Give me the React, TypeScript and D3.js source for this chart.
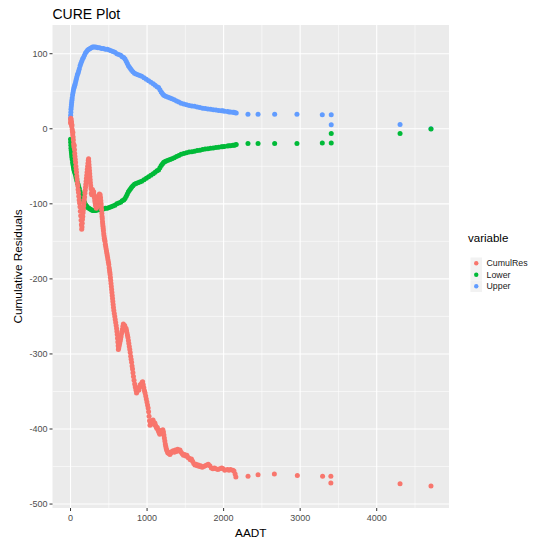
import React from "react";
import * as d3 from "d3";

const WIDTH = 535;
const HEIGHT = 541;
const PANEL = { left: 52.5, right: 449, top: 25, bottom: 508 };
const FONT = "'Liberation Sans', Arial, Helvetica, sans-serif";

const chartTitle = "CURE Plot";
const xTitle = "AADT";
const yTitle = "Cumulative Residuals";
const legendTitle = "variable";

const xBreaks = [0, 1000, 2000, 3000, 4000];
const yBreaks = [-500, -400, -300, -200, -100, 0, 100];

const seriesNames = ["CumulRes", "Lower", "Upper"];
const seriesColors = ["#F8766D", "#00BA38", "#619CFF"];

// [AADT, cumulative residual]
const cumulRes: [number, number][] = [
  [0, 8], [2, 12], [4, 14], [6, 9], [8, 12], [10, 6], [13, 9], [16, 3], [19, 5], [22, -1],
  [25, -4], [28, -8], [31, -5], [34, -11], [37, -15], [40, -20], [44, -24], [48, -22], [52, -28], [55, -33],
  [58, -37], [62, -41], [66, -45], [70, -50], [74, -54], [78, -58], [82, -63], [86, -67], [90, -72], [95, -76],
  [99, -81], [104, -85], [108, -90], [113, -95], [118, -99], [123, -104], [128, -110], [133, -116], [138, -122], [142, -128],
  [146, -134],
  [150, -131], [153, -126], [156, -121], [160, -117], [164, -112], [168, -108], [172, -103], [176, -99], [180, -95], [184, -91],
  [188, -86], [192, -82], [196, -78], [200, -74], [204, -70], [208, -66], [212, -62], [216, -58], [220, -54], [224, -50],
  [228, -46], [232, -42], [236, -40],
  [239, -44], [242, -48], [245, -52], [248, -56], [251, -60], [254, -64], [257, -68], [260, -72], [264, -76], [268, -80],
  [272, -86], [277, -88], [282, -84], [287, -81], [292, -83], [297, -86], [302, -84], [307, -88], [312, -92], [317, -96],
  [322, -99], [327, -102], [332, -104], [337, -106], [342, -104],
  [347, -100], [352, -96], [357, -93], [362, -90], [367, -92], [372, -89], [377, -87], [382, -90], [387, -88], [392, -92],
  [396, -96], [400, -100], [403, -104], [406, -108], [409, -113], [412, -117], [415, -120], [418, -124], [421, -127], [424, -130],
  [427, -133], [430, -136], [434, -140], [438, -143], [442, -146], [446, -148], [450, -150], [455, -154], [460, -157], [465, -160],
  [470, -163], [475, -166], [480, -169], [485, -172], [490, -175], [495, -178],
  [500, -181], [505, -185], [509, -188], [513, -191], [517, -194], [521, -198], [525, -202], [529, -206], [533, -210], [537, -214],
  [541, -218], [545, -222], [549, -226], [553, -230], [557, -234], [561, -238], [566, -242], [572, -246], [578, -250], [584, -254],
  [590, -258], [596, -262], [602, -266], [606, -270], [610, -274], [614, -279], [618, -284], [622, -289], [625, -294],
  [630, -292], [636, -289], [642, -286], [648, -283], [654, -280], [660, -277], [666, -273], [672, -270], [678, -267], [684, -263],
  [690, -260],
  [696, -263], [702, -266], [708, -262], [714, -265], [720, -268], [726, -266], [732, -269], [738, -272], [744, -275], [750, -278],
  [756, -282], [762, -286], [768, -290], [774, -294], [780, -298], [786, -303], [792, -307], [798, -311], [804, -316], [810, -320],
  [816, -325], [822, -330], [830, -335], [838, -340], [846, -344], [854, -348], [862, -352],
  [870, -350], [878, -347], [886, -345], [894, -348], [902, -344], [910, -341], [918, -343], [926, -340], [934, -338], [942, -337],
  [950, -341], [958, -345], [966, -349], [974, -352], [982, -356], [990, -360], [998, -364], [1006, -368], [1014, -372], [1020, -377],
  [1026, -383], [1032, -389], [1038, -395],
  [1044, -393], [1050, -391], [1057, -389], [1064, -392], [1071, -390], [1078, -388], [1086, -391], [1094, -394], [1102, -392], [1110, -395],
  [1118, -397], [1126, -399], [1134, -398], [1142, -401], [1150, -403], [1158, -405], [1166, -407], [1174, -404], [1182, -402], [1190, -405],
  [1198, -403], [1206, -401], [1214, -404], [1220, -408], [1226, -412], [1232, -416], [1238, -420], [1244, -423], [1250, -426], [1256, -428],
  [1264, -430], [1272, -432], [1280, -431], [1290, -433], [1299, -434],
  [1310, -432], [1325, -430], [1340, -429], [1355, -431], [1370, -428], [1385, -430], [1400, -427], [1415, -429], [1430, -428], [1445, -431],
  [1460, -433], [1475, -435], [1490, -434], [1505, -436], [1520, -435], [1535, -438], [1550, -439], [1565, -441], [1580, -440], [1595, -443],
  [1610, -446], [1625, -448], [1640, -447], [1655, -449], [1670, -448], [1685, -450], [1700, -449], [1720, -451], [1740, -450], [1760, -449],
  [1780, -448], [1800, -447], [1820, -449], [1840, -452], [1860, -453], [1880, -452], [1900, -453], [1925, -454], [1950, -453], [1975, -452],
  [1995, -453], [2015, -455], [2050, -454], [2070, -455], [2090, -454], [2120, -455], [2135, -456], [2150, -460], [2160, -464],
  [2319, -463], [2450, -461], [2663, -460], [2963, -462], [3293, -463], [3401, -463], [3401, -472], [4305, -473], [4709, -476],
];

// [AADT, upper bound]
const upper: [number, number][] = [
  [0, 14], [2, 18], [4, 22], [6, 26], [9, 29], [12, 32], [15, 35], [18, 38], [22, 41], [27, 45],
  [32, 48], [37, 51], [43, 54], [49, 56], [55, 58], [61, 60], [68, 63], [75, 66], [82, 69], [90, 72],
  [98, 74], [106, 77], [115, 80], [125, 84], [135, 87], [146, 90], [157, 93], [169, 95], [182, 98], [195, 101],
  [210, 103], [225, 105], [240, 106], [256, 107], [272, 108], [288, 109], [305, 109], [322, 109], [340, 108.5], [358, 108],
  [380, 108], [405, 107], [430, 107], [455, 106], [480, 106], [505, 105], [530, 104], [555, 103], [580, 102], [605, 100],
  [630, 99], [655, 98], [675, 96], [695, 95], [712, 93], [728, 90], [742, 87], [756, 84], [770, 82], [784, 80],
  [798, 78], [815, 76], [835, 74], [855, 73], [880, 72], [905, 71], [930, 70], [960, 68], [990, 66], [1020, 64],
  [1050, 62], [1080, 60], [1105, 58], [1130, 56], [1150, 55], [1168, 52], [1185, 49], [1200, 47], [1215, 45], [1230, 44],
  [1250, 43], [1275, 42], [1300, 41], [1325, 40], [1355, 38.5], [1385, 37], [1415, 35.5], [1445, 34], [1480, 33], [1515, 32],
  [1550, 31], [1585, 30.5], [1620, 30], [1655, 29], [1690, 28.5], [1725, 27.5], [1760, 27], [1795, 26.5], [1830, 26], [1865, 25.5],
  [1900, 25], [1935, 24.5], [1970, 24], [1990, 24], [2010, 23.5], [2050, 23], [2070, 22.5], [2090, 22.5], [2120, 22], [2135, 22],
  [2150, 21.5], [2165, 21],
  [2318, 19.5], [2450, 19.5], [2667, 19.5], [2958, 19.5], [3289, 18.6], [3406, 18.6], [3406, 5.3], [4305, 5.7], [4709, 0],
];

// [AADT, lower bound]
const lower: [number, number][] = [
  [0, -14], [2, -18], [4, -22], [6, -26], [9, -29], [12, -32], [15, -35], [18, -38], [22, -41], [27, -45],
  [32, -48], [37, -51], [43, -54], [49, -56], [55, -58], [61, -60], [68, -63], [75, -66], [82, -69], [90, -72],
  [98, -74], [106, -77], [115, -80], [125, -84], [135, -87], [146, -90], [157, -93], [169, -95], [182, -98], [195, -101],
  [210, -103], [225, -105], [240, -106], [256, -107], [272, -108], [288, -109], [305, -109], [322, -109], [340, -108.5], [358, -108],
  [380, -108], [405, -107], [430, -107], [455, -106], [480, -106], [505, -105], [530, -104], [555, -103], [580, -102], [605, -100],
  [630, -99], [655, -98], [675, -96], [695, -95], [712, -93], [728, -90], [742, -87], [756, -84], [770, -82], [784, -80],
  [798, -78], [815, -76], [835, -74], [855, -73], [880, -72], [905, -71], [930, -70], [960, -68], [990, -66], [1020, -64],
  [1050, -62], [1080, -60], [1105, -58], [1130, -56], [1150, -55], [1168, -52], [1185, -49], [1200, -47], [1215, -45], [1230, -44],
  [1250, -43], [1275, -42], [1300, -41], [1325, -40], [1355, -38.5], [1385, -37], [1415, -35.5], [1445, -34], [1480, -33], [1515, -32],
  [1550, -31], [1585, -30.5], [1620, -30], [1655, -29], [1690, -28.5], [1725, -27.5], [1760, -27], [1795, -26.5], [1830, -26], [1865, -25.5],
  [1900, -25], [1935, -24.5], [1970, -24], [1990, -24], [2010, -23.5], [2050, -23], [2070, -22.5], [2090, -22.5], [2120, -22], [2135, -22],
  [2150, -21.5], [2165, -21],
  [2318, -19.5], [2450, -19.5], [2667, -19.5], [2958, -19.5], [3289, -19], [3406, -19], [3406, -6.2], [4305, -6.2], [4709, -0.4],
];

// Drawing order: bounds first, residuals on top of them
const layers = [
  { name: "Upper", data: upper },
  { name: "Lower", data: lower },
  { name: "CumulRes", data: cumulRes },
];

function expand(ext: [number, number], mult = 0.05): [number, number] {
  const pad = (ext[1] - ext[0]) * mult;
  return [ext[0] - pad, ext[1] + pad];
}

function minorBreaks(major: number[], domain: [number, number]) {
  const step = major[1] - major[0];
  const out: number[] = [];
  for (let v = major[0] - step / 2; v <= domain[1]; v += step) {
    if (v >= domain[0] && v <= domain[1]) out.push(v);
  }
  return out;
}

export default function App() {
  const all = [...cumulRes, ...upper, ...lower];
  const xDomain = expand(d3.extent(all, (d) => d[0]) as [number, number]);
  const yDomain = expand(d3.extent(all, (d) => d[1]) as [number, number]);

  const x = d3.scaleLinear().domain(xDomain).range([PANEL.left, PANEL.right]);
  const y = d3.scaleLinear().domain(yDomain).range([PANEL.bottom, PANEL.top]);
  const color = d3.scaleOrdinal<string, string>().domain(seriesNames).range(seriesColors);

  const xMinor = minorBreaks(xBreaks, xDomain);
  const yMinor = minorBreaks(yBreaks, yDomain);

  const legendX = 468;
  const keyTop = 257.5;
  const keyH = 11.5;

  return (
    <svg
      width={WIDTH}
      height={HEIGHT}
      style={{ position: "absolute", left: 0, top: 0, background: "#FFFFFF" }}
      fontFamily={FONT}
    >
      <rect x={0} y={0} width={WIDTH} height={HEIGHT} fill="#FFFFFF" />
      <text x={PANEL.left} y={19} fontSize={14} fill="#000">
        {chartTitle}
      </text>

      {/* panel */}
      <rect
        x={PANEL.left}
        y={PANEL.top}
        width={PANEL.right - PANEL.left}
        height={PANEL.bottom - PANEL.top}
        fill="#EBEBEB"
      />
      {xMinor.map((v) => (
        <line key={`xm${v}`} x1={x(v)} x2={x(v)} y1={PANEL.top} y2={PANEL.bottom} stroke="#FFFFFF" strokeWidth={0.55} />
      ))}
      {yMinor.map((v) => (
        <line key={`ym${v}`} x1={PANEL.left} x2={PANEL.right} y1={y(v)} y2={y(v)} stroke="#FFFFFF" strokeWidth={0.55} />
      ))}
      {xBreaks.map((v) => (
        <line key={`xg${v}`} x1={x(v)} x2={x(v)} y1={PANEL.top} y2={PANEL.bottom} stroke="#FFFFFF" strokeWidth={1.1} />
      ))}
      {yBreaks.map((v) => (
        <line key={`yg${v}`} x1={PANEL.left} x2={PANEL.right} y1={y(v)} y2={y(v)} stroke="#FFFFFF" strokeWidth={1.1} />
      ))}

      {/* points */}
      {layers.map((layer) => (
        <g key={layer.name} fill={color(layer.name)}>
          {layer.data.map((d, i) => (
            <circle key={i} cx={x(d[0])} cy={y(d[1])} r={2.5} />
          ))}
        </g>
      ))}

      {/* x axis */}
      {xBreaks.map((v) => (
        <g key={`xt${v}`}>
          <line x1={x(v)} x2={x(v)} y1={PANEL.bottom} y2={PANEL.bottom + 3} stroke="#333333" strokeWidth={1} />
          <text x={x(v)} y={521} fontSize={9} fill="#4D4D4D" textAnchor="middle">
            {v}
          </text>
        </g>
      ))}
      <text x={(PANEL.left + PANEL.right) / 2} y={537} fontSize={11.8} fill="#000" textAnchor="middle">
        {xTitle}
      </text>

      {/* y axis */}
      {yBreaks.map((v) => (
        <g key={`yt${v}`}>
          <line x1={PANEL.left - 3} x2={PANEL.left} y1={y(v)} y2={y(v)} stroke="#333333" strokeWidth={1} />
          <text x={PANEL.left - 5} y={y(v) + 3.2} fontSize={9} fill="#4D4D4D" textAnchor="end">
            {v}
          </text>
        </g>
      ))}
      <text
        transform={`translate(22,${(PANEL.top + PANEL.bottom) / 2}) rotate(-90)`}
        fontSize={11.8}
        fill="#000"
        textAnchor="middle"
      >
        {yTitle}
      </text>

      {/* legend */}
      <text x={legendX} y={242} fontSize={11.5} fill="#000">
        {legendTitle}
      </text>
      {seriesNames.map((name, i) => {
        const cy = keyTop + keyH * i + keyH / 2;
        return (
          <g key={`lg${name}`}>
            <rect x={legendX + 2.5} y={keyTop + keyH * i} width={keyH} height={keyH} fill="#F2F2F2" />
            <circle cx={legendX + 2.5 + keyH / 2} cy={cy} r={2.2} fill={color(name)} />
            <text x={legendX + 18.5} y={cy + 3.1} fontSize={8.8} fill="#1A1A1A">
              {name}
            </text>
          </g>
        );
      })}
    </svg>
  );
}
